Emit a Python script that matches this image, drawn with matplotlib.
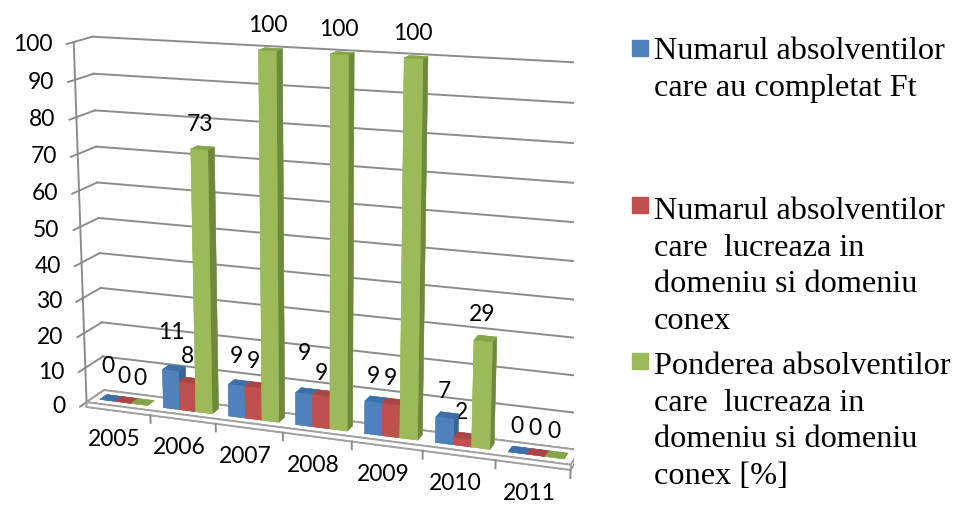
import numpy as np
import matplotlib
matplotlib.use('Agg')
import matplotlib.pyplot as plt
from matplotlib.patches import Rectangle
from matplotlib.transforms import offset_copy
from mpl_toolkits.mplot3d import proj3d

# ---------------- data ----------------
years = ['2005', '2006', '2007', '2008', '2009', '2010', '2011']
completat = [0, 11, 9, 9, 9, 7, 0]
lucreaza = [0, 8, 9, 9, 9, 2, 0]
ponderea = [0, 73, 100, 100, 100, 29, 0]
series_names = [
    'Numarul absolventilor\ncare au completat Ft',
    'Numarul absolventilor\ncare  lucreaza in\ndomeniu si domeniu\nconex',
    'Ponderea absolventilor\ncare  lucreaza in\ndomeniu si domeniu\nconex [%]',
]
value_ticks = [0, 10, 20, 30, 40, 50, 60, 70, 80, 90, 100]

# extra vertical lift (pixels) of some data labels, as Excel staggers them
label_lift = {(0, 0): 8, (1, 0): 12, (2, 0): 3, (3, 0): 14, (3, 1): -4}

# ---------------- style ----------------
front_cols = ['#4F81BD', '#C0504D', '#9BBB59']
side_cols = ['#3A6396', '#963C3A', '#6E883D']
top_cols = ['#3F6FAA', '#A94542', '#86A54A']
grid_col = '#8C8C8C'
num_font = 'Lato'
num_size = 16.5

fig = plt.figure(figsize=(9.55, 5.14), dpi=100)
ax = fig.add_axes([0.012, 0.012, 0.64, 1.0], projection='3d')
ax.set_proj_type('persp', focal_length=0.64)
ax.view_init(elev=14.6, azim=-70)
ax.computed_zorder = False
ax.set_axis_off()

ncat = len(years)
D = 0.55         # floor depth
bw = 0.25        # bar width
bd = 0.22        # bar depth
y0 = 0.17        # bar front
slab = 1.4       # floor thickness
ax.set_xlim(0, ncat)
ax.set_ylim(0, D)
ax.set_zlim(0, 100)
ax.set_box_aspect((ncat, D, 5.15), zoom=1.23)

# gridlines: back wall and left wall
for v in value_ticks:
    ax.plot([0, ncat], [D, D], [v, v], color=grid_col, lw=1.4, zorder=0.5)
    ax.plot([0, 0], [0, D], [v, v], color=grid_col, lw=1.4, zorder=0.5)
    ax.plot([0, 0], [-0.2, 0], [v, v], color=grid_col, lw=1.4, zorder=0.5)
ax.plot([0, 0], [0, 0], [-slab, 100], color=grid_col, lw=1.4, zorder=0.6)

# floor slab
ax.bar3d(0, 0, -slab, ncat, D, slab, color='white', edgecolor='#A0A0A0',
         lw=1.3, shade=False, zorder=1)
for i in range(1, ncat + 1):
    ax.plot([i, i], [0, 0], [-slab, -slab - 2.2], color=grid_col, lw=1.4,
            zorder=1.1)

# bars
series = [completat, lucreaza, ponderea]
zo = 2
for i in range(ncat):
    for s, vals in enumerate(series):
        x0 = i + 0.5 - 1.5 * bw + s * bw
        cols = [front_cols[s], top_cols[s], front_cols[s], front_cols[s],
                front_cols[s], side_cols[s]]
        ax.bar3d(x0, y0, 0, bw, bd, vals[i], color=cols, edgecolor=cols,
                 lw=0.3, shade=False, zorder=zo)
        zo += 1

M = ax.get_proj()


def proj(x, y, z):
    px, py, _ = proj3d.proj_transform(np.atleast_1d(x), np.atleast_1d(y),
                                      np.atleast_1d(z), M)
    return float(px[0]), float(py[0])


# data labels
for i in range(ncat):
    for s, vals in enumerate(series):
        x0 = i + 0.5 - 1.5 * bw + s * bw
        px, py = proj(x0 + bw / 2, y0 + bd / 2, vals[i])
        tr = offset_copy(ax.transData, fig=fig, x=-3,
                         y=13 + label_lift.get((i, s), 0), units='dots')
        ax.text2D(px, py, str(vals[i]), transform=tr, ha='center',
                  va='bottom', fontsize=num_size, family=num_font)

# value tick labels
for v in value_ticks:
    px, py = proj(0, -0.2, v)
    tr = offset_copy(ax.transData, fig=fig, x=-14, y=0, units='dots')
    ax.text2D(px, py, str(v), transform=tr, ha='right', va='center',
              fontsize=num_size, family=num_font)

# category labels
for i, yr in enumerate(years):
    px, py = proj(i + 0.5, 0, -slab)
    tr = offset_copy(ax.transData, fig=fig, x=-4, y=-18, units='dots')
    ax.text2D(px, py, yr, transform=tr, ha='center', va='top',
              fontsize=num_size, family=num_font)

# legend
leg_top = [0.928, 0.617, 0.315]
sq_bottom = [0.891, 0.586, 0.282]
for s in range(3):
    fig.add_artist(Rectangle((0.662, sq_bottom[s]), 0.0168, 0.031,
                             transform=fig.transFigure, color=front_cols[s]))
    fig.text(0.685, leg_top[s], series_names[s], ha='left', va='top',
             fontsize=23.2, family='Liberation Serif', linespacing=1.35)

fig.savefig('out.png', dpi=100)
